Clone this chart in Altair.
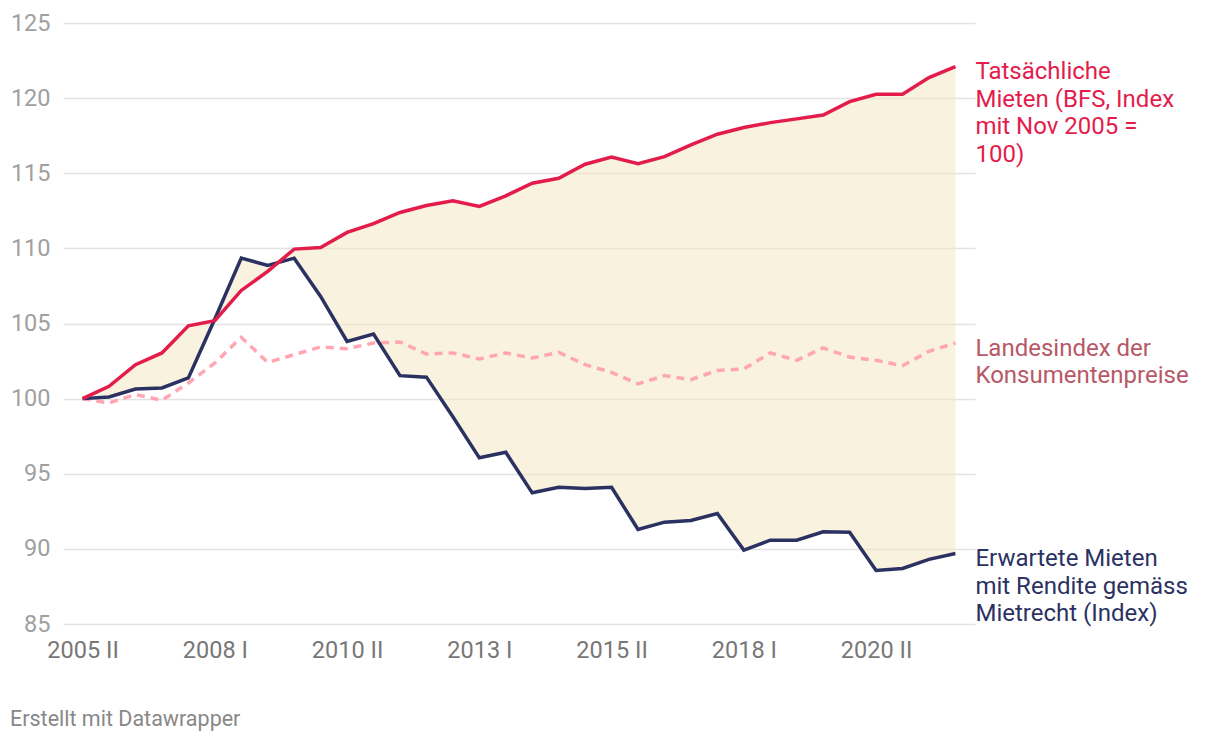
import altair as alt
import pandas as pd

periods = [
    "2005 II", "2006 I", "2006 II", "2007 I", "2007 II", "2008 I", "2008 II", "2009 I",
    "2009 II", "2010 I", "2010 II", "2011 I", "2011 II", "2012 I", "2012 II", "2013 I",
    "2013 II", "2014 I", "2014 II", "2015 I", "2015 II", "2016 I", "2016 II", "2017 I",
    "2017 II", "2018 I", "2018 II", "2019 I", "2019 II", "2020 I", "2020 II", "2021 I",
    "2021 II", "2022 I",
]
tick_labels = ["2005 II", "2008 I", "2010 II", "2013 I", "2015 II", "2018 I", "2020 II"]

actual_rents = [100, 100.82, 102.26, 103.04, 104.85, 105.19, 107.2, 108.47, 109.95, 110.06,
                111.06, 111.64, 112.39, 112.85, 113.16, 112.79, 113.5, 114.34, 114.67, 115.6,
                116.07, 115.63, 116.11, 116.89, 117.6, 118.04, 118.37, 118.62, 118.88, 119.77,
                120.26, 120.26, 121.37, 122.1]
expected_rents = [100, 100.11, 100.64, 100.71, 101.38, 105.3, 109.35, 108.87, 109.35, 106.8,
                  103.81, 104.3, 101.53, 101.43, 98.8, 96.06, 96.43, 93.73, 94.1, 94.02,
                  94.1, 91.29, 91.78, 91.89, 92.35, 89.92, 90.58, 90.58, 91.14, 91.11,
                  88.56, 88.7, 89.3, 89.69]
cpi = [100, 99.71, 100.27, 99.89, 101.04, 102.37, 104.08, 102.41, 102.93, 103.44,
       103.32, 103.7, 103.77, 102.97, 103.04, 102.64, 103.04, 102.7, 103.08, 102.26,
       101.75, 100.98, 101.53, 101.26, 101.88, 101.97, 103.04, 102.55, 103.37, 102.77,
       102.55, 102.19, 103.15, 103.7]

series_names = [
    "Tatsächliche\nMieten (BFS, Index\nmit Nov 2005 =\n100)",
    "Landesindex der\nKonsumentenpreise",
    "Erwartete Mieten\nmit Rendite gemäss\nMietrecht (Index)",
]
RED = "#e31c4c"
NAVY = "#2b3262"
PINK = "#ffa6b2"
PINK_LABEL = "#b85866"
FONT = "Roboto"

wide = pd.DataFrame({"period": periods, "actual": actual_rents,
                     "expected": expected_rents, "cpi": cpi})

x = alt.X("period:N", sort=periods,
          scale=alt.Scale(type="point", padding=0.74),
          axis=alt.Axis(values=tick_labels, labelAngle=0, title=None, domain=False,
                        ticks=False, grid=False, labelFontSize=23.5, labelColor="#777777",
                        labelFont=FONT, labelPadding=14))
yscale = alt.Scale(domain=[85, 125], nice=False, zero=False)
y_axis = alt.Axis(values=[85, 90, 95, 100, 105, 110, 115, 120, 125], title=None,
                  domain=False, ticks=False, grid=True, gridColor="#e3e3e3", gridWidth=1.5,
                  labelFontSize=23.5, labelColor="#a0a0a0", labelFont=FONT, labelPadding=13)

base = alt.Chart(wide).encode(x=x)

area = base.mark_area(color="#f3e6bd", opacity=0.5).encode(
    y=alt.Y("actual:Q", scale=yscale, axis=y_axis),
    y2="expected:Q",
)
line_cpi = base.mark_line(color=PINK, strokeWidth=3.5, strokeDash=[8, 6]).encode(
    y=alt.Y("cpi:Q", scale=yscale))
line_exp = base.mark_line(color=NAVY, strokeWidth=3.5).encode(
    y=alt.Y("expected:Q", scale=yscale))
line_act = base.mark_line(color=RED, strokeWidth=3.5).encode(
    y=alt.Y("actual:Q", scale=yscale))

lab = pd.DataFrame({
    "period": [periods[-1]] * 3,
    "value": [actual_rents[-1], cpi[-1], expected_rents[-1]],
    "label": series_names,
    "color": [RED, PINK_LABEL, NAVY],
})
labels = alt.Chart(lab).mark_text(
    align="left", baseline="alphabetic", dx=20, dy=12.5, fontSize=24, font=FONT,
    lineBreak="\n", lineHeight=27.7,
).encode(
    x=alt.X("period:N", sort=periods, scale=alt.Scale(type="point", padding=0.74)),
    y=alt.Y("value:Q", scale=yscale),
    text="label:N",
    color=alt.Color("color:N", scale=None),
)

chart = alt.layer(area, line_cpi, line_exp, line_act, labels).properties(
    width=912, height=601,
    autosize=alt.AutoSizeParams(type="none"),
    padding={"left": 55, "top": 15, "right": 237, "bottom": 115},
    title=alt.TitleParams(text="Erstellt mit Datawrapper", orient="bottom", anchor="start",
                          frame="group", dx=-53, offset=47, fontSize=21.5, color="#888888",
                          font=FONT, fontWeight="normal"),
).configure_view(stroke=None)

chart.save("out.html", embed_options={"renderer": "svg", "actions": False})
